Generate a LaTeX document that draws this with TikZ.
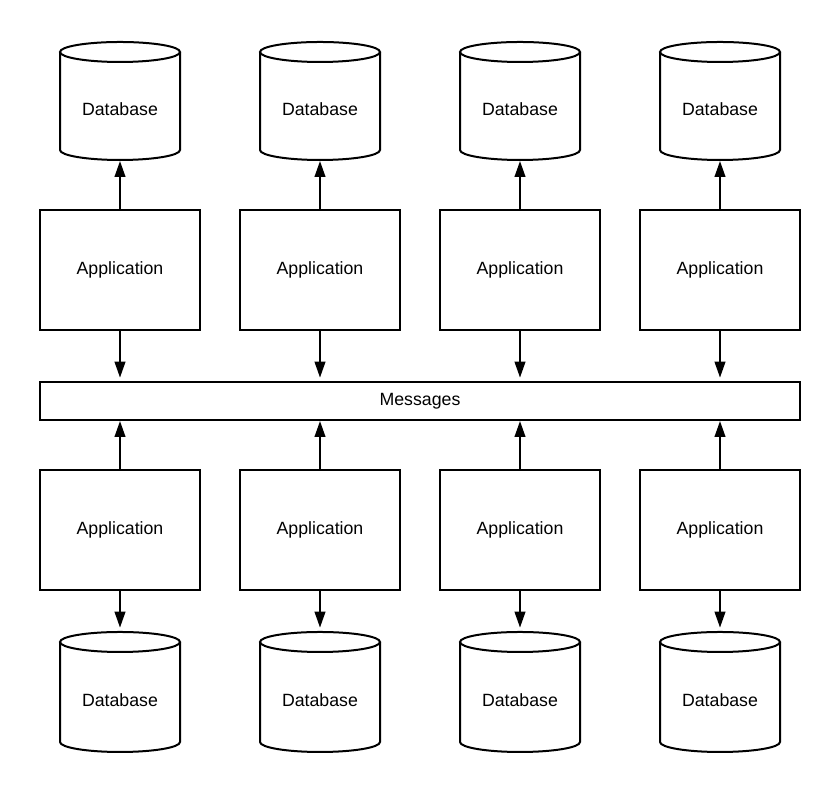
\documentclass[tikz,border=0pt]{standalone}
\usepackage{fontspec}
\setmainfont{Liberation Sans}
\usetikzlibrary{arrows.meta}
\begin{document}
\begin{tikzpicture}[x=0.75pt,y=0.75pt,
  line width=1.5pt,
  every node/.style={font=\fontsize{13.3}{16}\selectfont},
  appbox/.style={draw,rectangle,minimum width=120pt,minimum height=90pt,inner sep=0pt},
  msgbox/.style={draw,rectangle,minimum width=570pt,minimum height=28.5pt,inner sep=0pt},
  cylarea/.style={rectangle,inner sep=0pt,minimum width=90pt},
  arr/.style={-{Triangle[length=12pt,width=8pt]}},
  arrgap/.style={-{Triangle[length=12pt,width=8pt]},shorten >=2.5pt}]
\useasboundingbox (0,0) rectangle (840,791);
% messages bar
\node[msgbox] (msg) at (420,390) {Messages};
\foreach \x/\i in {120/1,320/2,520/3,720/4}{
  % top database
  \draw (\x-60,739) -- (\x-60,641) arc[start angle=180,end angle=360,x radius=45pt,y radius=7.5pt] -- (\x+60,739);
  \draw (\x,739) ellipse [x radius=45pt,y radius=7.5pt];
  \node[cylarea,minimum height=88.5pt] (dbt\i) at (\x,690) {};
  \node (dbtl\i) at (\x,682) {Database};
  % top application
  \node[appbox] (appt\i) at (\x,521) {Application};
  % bottom application
  \node[appbox] (appb\i) at (\x,261) {Application};
  % bottom database
  \draw (\x-60,149) -- (\x-60,49) arc[start angle=180,end angle=360,x radius=45pt,y radius=7.5pt] -- (\x+60,149);
  \draw (\x,149) ellipse [x radius=45pt,y radius=7.5pt];
  \node[cylarea,minimum height=90pt] (dbb\i) at (\x,99) {};
  \node (dbbl\i) at (\x,91) {Database};
  % connectors
  \draw[arr] (appt\i.north) -- (dbt\i.south);
  \draw[arrgap] (appt\i.south) -- (appt\i.south |- msg.north);
  \draw[arr] (appb\i.north) -- (appb\i.north |- msg.south);
  \draw[arrgap] (appb\i.south) -- (dbb\i.north);
}
\end{tikzpicture}
\end{document}
